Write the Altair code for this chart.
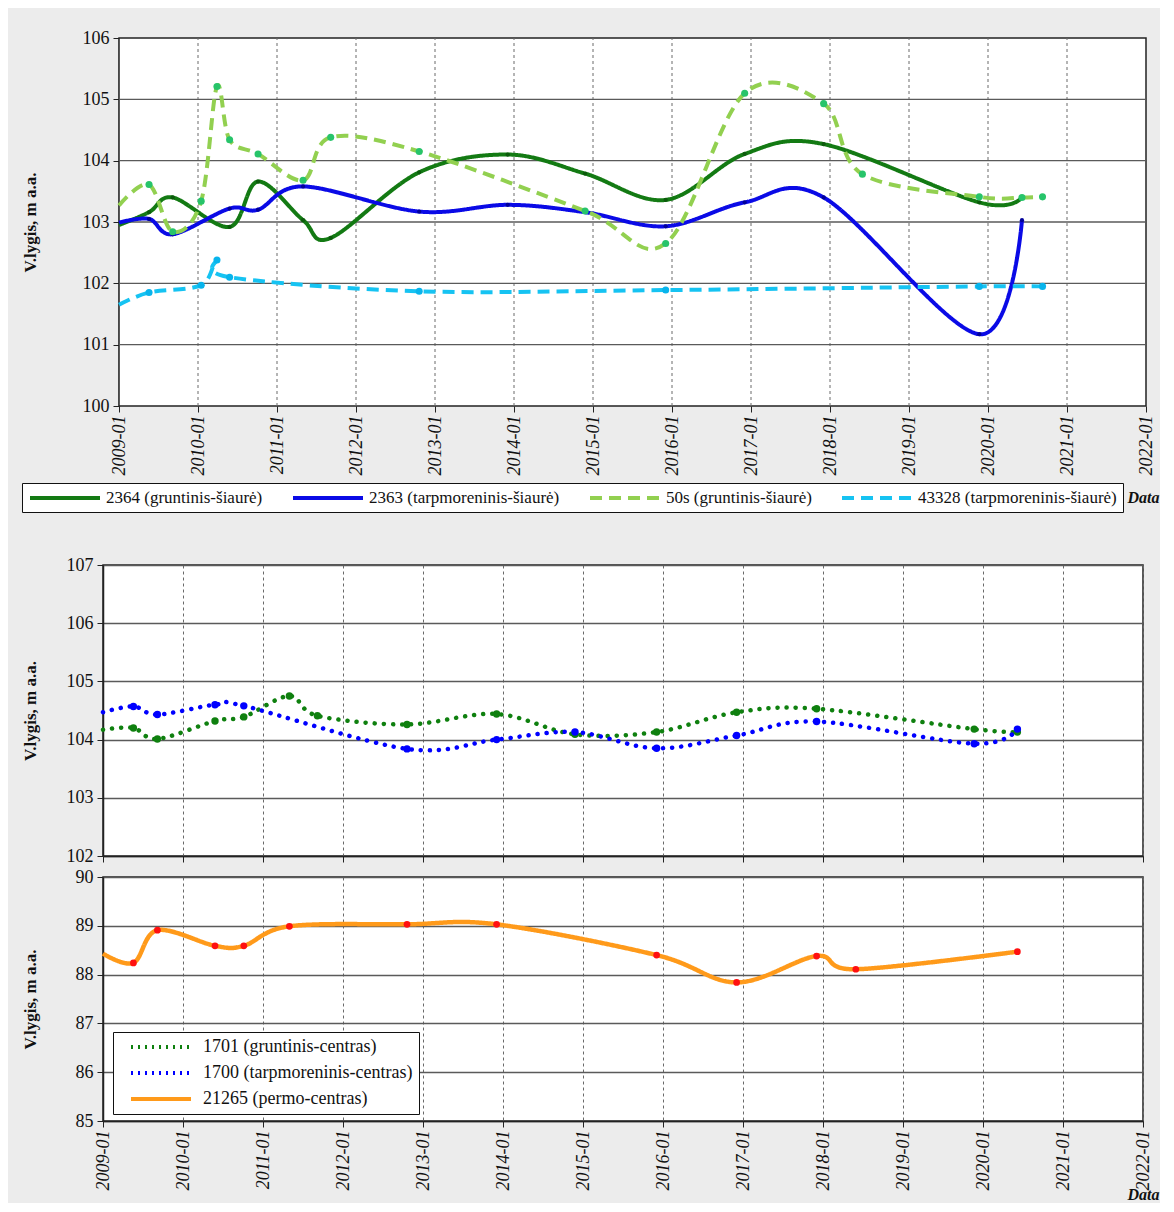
import altair as alt
import pandas as pd

SERIF = "Liberation Serif"

# ---------------- top panel (šiaurė) ----------------
top_names = ["2364 (gruntinis-šiaurė)", "2363 (tarpmoreninis-šiaurė)",
             "50s (gruntinis-šiaurė)", "43328 (tarpmoreninis-šiaurė)"]

t_2364 = [2009.0, 2009.38, 2009.68, 2010.40, 2010.76, 2011.33, 2011.68, 2012.80,
          2013.92, 2014.90, 2015.92, 2016.92, 2017.92, 2019.89, 2020.43]
v_2364 = [102.95, 103.16, 103.40, 102.92, 103.66, 103.03, 102.74, 103.81,
          104.10, 103.79, 103.36, 104.11, 104.27, 103.32, 103.40]

t_2363 = [2009.0, 2009.38, 2009.68, 2010.40, 2010.76, 2011.33, 2012.80, 2013.92,
          2014.90, 2015.92, 2016.92, 2017.92, 2019.89, 2020.43]
v_2363 = [102.99, 103.05, 102.80, 103.22, 103.20, 103.58, 103.17, 103.28,
          103.16, 102.93, 103.32, 103.40, 101.17, 103.03]

t_50s = [2009.0, 2009.38, 2009.68, 2010.04, 2010.24, 2010.40, 2010.76, 2011.33,
         2011.68, 2012.80, 2014.90, 2015.92, 2016.92, 2017.92, 2018.41, 2019.89,
         2020.43, 2020.69]
v_50s = [103.27, 103.61, 102.84, 103.34, 105.21, 104.34, 104.11, 103.68,
         104.38, 104.15, 103.18, 102.65, 105.10, 104.93, 103.78, 103.41,
         103.40, 103.41]

t_43328 = [2009.0, 2009.38, 2010.04, 2010.24, 2010.40, 2012.80, 2015.92, 2019.89, 2020.69]
v_43328 = [101.65, 101.85, 101.97, 102.38, 102.10, 101.87, 101.89, 101.95, 101.95]

# ---------------- middle panel (centras) ----------------
mid_names = ["1701 (gruntinis-centras)", "1700 (tarpmoreninis-centras)", "21265 (permo-centras)"]

t_1701 = [2009.0, 2009.38, 2009.68, 2010.40, 2010.76, 2011.33, 2011.68, 2012.80,
          2013.92, 2014.90, 2015.92, 2016.92, 2017.92, 2019.89, 2020.43]
v_1701 = [104.17, 104.20, 104.01, 104.32, 104.39, 104.75, 104.41, 104.26,
          104.44, 104.09, 104.13, 104.47, 104.53, 104.18, 104.13]

t_1700 = [2009.0, 2009.38, 2009.68, 2010.40, 2010.76, 2012.80, 2013.92, 2014.90,
          2015.92, 2016.92, 2017.92, 2019.89, 2020.43]
v_1700 = [104.47, 104.57, 104.43, 104.60, 104.58, 103.84, 104.00, 104.13,
          103.85, 104.07, 104.31, 103.93, 104.18]

# ---------------- bottom panel (permo) ----------------
t_21265 = [2009.0, 2009.38, 2009.68, 2010.40, 2010.76, 2011.33, 2012.80, 2013.92,
           2015.92, 2016.92, 2017.92, 2018.41, 2020.43]
v_21265 = [88.43, 88.24, 88.91, 88.59, 88.59, 88.99, 89.03, 89.03,
           88.40, 87.84, 88.38, 88.11, 88.47]

year_ticks = list(range(2009, 2023))
top_ticks = list(range(100, 107))
mid_ticks = list(range(102, 108))
bot_ticks = list(range(85, 91))

# styles
top_line_colors = ["#137a13", "#0a0ae6", "#92d050", "#16c3f2"]
top_dashes = [[1, 0], [1, 0], [12, 7], [12, 7]]
top_marker_col = {top_names[0]: "#0c5a0c", top_names[1]: "#00009a",
                  top_names[2]: "#27c46a", top_names[3]: "#08b4ec"}
top_marker_size = {top_names[0]: 18, top_names[1]: 18, top_names[2]: 50, top_names[3]: 50}

mid_colors = ["#0f800f", "#0000ff", "#ff9a1a"]
mid_dashes = [[2, 5], [2, 5], [1, 0]]

LEG_SYMBOL = "M-5,0H5"
GRID_Y = "#5a5a5a"
GRID_X = "#6a6a6a"


def frame(parts):
    rows = []
    for name, ts, vs in parts:
        for t, v in zip(ts, vs):
            rows.append({"series": name, "t": t, "v": v})
    return pd.DataFrame(rows)


df_top = frame([(top_names[0], t_2364, v_2364), (top_names[1], t_2363, v_2363),
                (top_names[2], t_50s, v_50s), (top_names[3], t_43328, v_43328)])
df_top["mcol"] = df_top["series"].map(top_marker_col)
df_top["msz"] = df_top["series"].map(top_marker_size)

df_mid = frame([(mid_names[0], t_1701, v_1701), (mid_names[1], t_1700, v_1700)])
df_bot = frame([(mid_names[2], t_21265, v_21265)])


def x_axis(labels=True, title=None, tx=0, ty=0, grid=True, domain=True):
    kw = dict(values=year_ticks, grid=grid, gridDash=[3, 3], gridColor=GRID_X,
              gridWidth=1, tickSize=6, tickColor="#222", domain=domain, domainColor="#222",
              domainWidth=1.5, labels=labels)
    if labels:
        kw.update(labelExpr="datum.value + '-01'", labelAngle=270, labelFont=SERIF,
                  labelFontStyle="italic", labelFontSize=18, labelColor="#111",
                  labelPadding=3, labelAlign="right", labelBaseline="middle")
    if title:
        kw.update(title=title, titleX=tx, titleY=ty, titleAlign="center",
                  titleBaseline="middle", titleFont=SERIF, titleFontStyle="italic",
                  titleFontWeight="bold", titleFontSize=16, titleColor="#111")
    else:
        kw.update(title="")
    return alt.Axis(**kw)


def y_axis(vals, tx, ty, grid=True, offset=0):
    return alt.Axis(values=vals, format="d", grid=grid, gridColor=GRID_Y, gridWidth=1.3,
                    tickSize=6, tickColor="#222", domainColor="#222", domainWidth=1.5,
                    offset=offset,
                    labelFont=SERIF, labelFontSize=18, labelColor="#111", labelPadding=4,
                    title="V.lygis, m a.a.", titleX=tx, titleY=ty, titleAngle=270,
                    titleAlign="center", titleBaseline="middle", titleFont=SERIF,
                    titleFontWeight="bold", titleFontSize=17, titleColor="#111")


# ---------------- top chart ----------------
# the top panel's plot starts 16 px to the right of the lower panels
SHIFT = 16
TW, TH = 1027, 368
x_lo = 2009 - SHIFT * 13 / TW
top_xscale = alt.Scale(domain=[x_lo, 2022], nice=False, zero=False)
top_yscale = alt.Scale(domain=[100, 106], nice=False, zero=False)
top_xaxis = x_axis(True, "Data", 1040, 91, grid=False, domain=False)
top_yaxis = y_axis(top_ticks, -89, TH / 2, grid=False, offset=-SHIFT)


def tx(field=None, datum=None):
    if field:
        return alt.X(field, type="quantitative", scale=top_xscale, axis=top_xaxis)
    return alt.X(datum=datum, type="quantitative", scale=top_xscale, axis=top_xaxis)


def ty(field=None, datum=None):
    if field:
        return alt.Y(field, type="quantitative", scale=top_yscale, axis=top_yaxis)
    return alt.Y(datum=datum, type="quantitative", scale=top_yscale, axis=top_yaxis)


one = pd.DataFrame({"k": [0]})
top_bg = alt.Chart(one).mark_rect(fill="white", stroke="#222", strokeWidth=1.5).encode(
    x=tx(datum=year_ticks[0]), x2=alt.X2(datum=year_ticks[-1]),
    y=ty(datum=top_ticks[0]), y2=alt.Y2(datum=top_ticks[-1]))
top_vgrid = alt.Chart(pd.DataFrame({"g": year_ticks[1:-1]})).mark_rule(
    color=GRID_X, strokeWidth=1, strokeDash=[3, 3]).encode(
    x=tx("g"), y=ty(datum=top_ticks[0]), y2=alt.Y2(datum=top_ticks[-1]))
top_hgrid = alt.Chart(pd.DataFrame({"g": top_ticks[1:-1]})).mark_rule(
    color=GRID_Y, strokeWidth=1.3).encode(
    y=ty("g"), x=tx(datum=year_ticks[0]), x2=alt.X2(datum=year_ticks[-1]))

leg_top = alt.Legend(title=None, orient="none", legendX=-81, legendY=445,
                     direction="horizontal", symbolType=LEG_SYMBOL, symbolSize=196,
                     symbolStrokeWidth=4, symbolOffset=28, labelFont=SERIF, labelFontSize=17,
                     labelColor="#111", strokeColor="#111", fillColor="white",
                     padding=6, columnPadding=22, labelLimit=400, labelOffset=32)
top_line = alt.Chart(df_top).mark_line(interpolate="cardinal", strokeWidth=4).encode(
    x=tx("t"), y=ty("v"),
    color=alt.Color("series:N", scale=alt.Scale(domain=top_names, range=top_line_colors),
                    legend=leg_top),
    strokeDash=alt.StrokeDash("series:N", scale=alt.Scale(domain=top_names, range=top_dashes),
                              legend=leg_top),
)
top_pts = alt.Chart(df_top).transform_filter("datum.t > 2009.01").mark_circle(opacity=1).encode(
    x=tx("t"), y=ty("v"),
    color=alt.Color("mcol:N", scale=None),
    size=alt.Size("msz:Q", scale=None),
)
top_chart = alt.layer(top_bg, top_vgrid, top_hgrid, top_line, top_pts).properties(
    width=TW + SHIFT, height=TH,
    view=alt.ViewBackground(fill="transparent", stroke="transparent"))

# ---------------- middle chart ----------------
BW = 1040
MH = 291
mid_x = alt.X("t:Q", scale=alt.Scale(domain=[2009, 2022], nice=False, zero=False),
              axis=x_axis(False))
mid_y = alt.Y("v:Q", scale=alt.Scale(domain=[102, 107], nice=False, zero=False),
              axis=y_axis(mid_ticks, -73, MH / 2))
mid_line = alt.Chart(df_mid).mark_line(interpolate="cardinal", strokeWidth=4.5,
                                       strokeDash=[0.1, 9], strokeCap="round").encode(
    x=mid_x, y=mid_y,
    color=alt.Color("series:N", scale=alt.Scale(domain=mid_names, range=mid_colors), legend=None),
)
mid_pts = alt.Chart(df_mid).transform_filter("datum.t > 2009.01").mark_circle(
    opacity=1, size=55).encode(
    x=mid_x, y=mid_y,
    color=alt.Color("series:N", scale=alt.Scale(domain=mid_names, range=mid_colors), legend=None),
)
mid_chart = alt.layer(mid_line, mid_pts).properties(width=BW, height=MH)

# ---------------- bottom chart ----------------
BH = 244
bot_x = alt.X("t:Q", scale=alt.Scale(domain=[2009, 2022], nice=False, zero=False),
              axis=x_axis(True, "Data", 1040, 73))
bot_y = alt.Y("v:Q", scale=alt.Scale(domain=[85, 90], nice=False, zero=False),
              axis=y_axis(bot_ticks, -73, BH / 2))
leg_bot = alt.Legend(title=None, orient="none", legendX=10, legendY=155,
                     direction="vertical", symbolType=LEG_SYMBOL, symbolSize=144,
                     symbolStrokeWidth=4, symbolOffset=33, labelFont=SERIF, labelFontSize=18,
                     labelColor="#111", strokeColor="#111", fillColor="white",
                     padding=6, rowPadding=8, labelLimit=400, labelOffset=33)
bot_line = alt.Chart(df_bot).mark_line(interpolate="cardinal", strokeWidth=4.5).encode(
    x=bot_x, y=bot_y,
    color=alt.Color("series:N", scale=alt.Scale(domain=mid_names, range=mid_colors), legend=leg_bot),
    strokeDash=alt.StrokeDash("series:N", scale=alt.Scale(domain=mid_names, range=mid_dashes),
                              legend=leg_bot),
)
bot_pts = alt.Chart(df_bot).transform_filter("datum.t > 2009.01").mark_circle(
    opacity=1, size=45, color="#ff1010").encode(x=bot_x, y=bot_y)
bot_chart = alt.layer(bot_line, bot_pts).properties(width=BW, height=BH)

bottom_stack = alt.vconcat(mid_chart, bot_chart, spacing=21, bounds="flush").resolve_scale(
    color="independent", strokeDash="independent")

chart = alt.vconcat(top_chart, bottom_stack, spacing=41).resolve_scale(
    color="independent", strokeDash="independent"
).properties(
    padding={"left": 12, "top": 20, "right": 0, "bottom": 0},
    background="#ececec",
).configure_view(fill="white", stroke="#222", strokeWidth=1.5)

chart.save("out.html", embed_options={"renderer": "svg", "actions": False})
